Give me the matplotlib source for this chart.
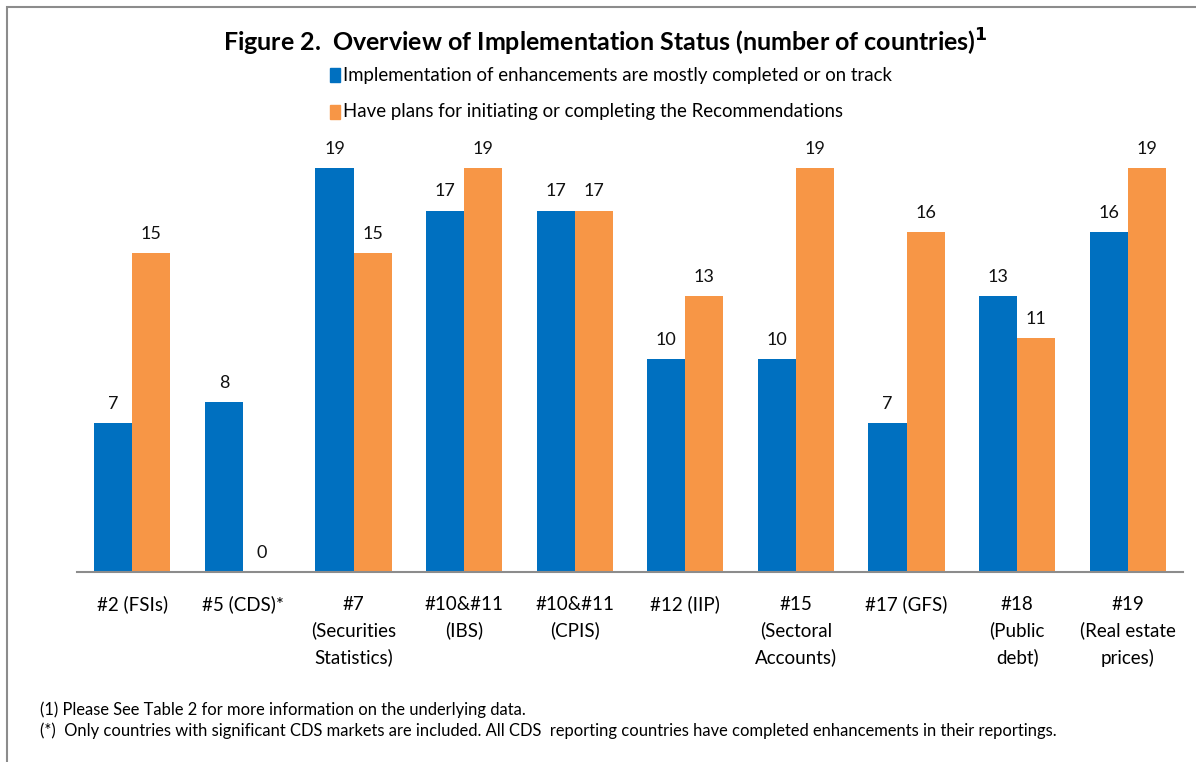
import matplotlib

matplotlib.use("Agg")
import matplotlib.pyplot as plt
from matplotlib.patches import Rectangle
import numpy as np

plt.rcParams["font.family"] = ["Lato", "DejaVu Sans"]

CATEGORIES = [
    "#2 (FSIs)", "#5 (CDS)*", "#7\n(Securities\nStatistics)", "#10&#11\n(IBS)",
    "#10&#11\n(CPIS)", "#12 (IIP)", "#15\n(Sectoral\nAccounts)", "#17 (GFS)",
    "#18\n(Public\ndebt)", "#19\n(Real estate\nprices)",
]
COMPLETED = [7, 8, 19, 17, 17, 10, 10, 7, 13, 16]
PLANS = [15, 0, 15, 19, 17, 13, 19, 16, 11, 19]

SERIES_NAMES = [
    "Implementation of enhancements are mostly completed or on track",
    "Have plans for initiating or completing the Recommendations",
]
BLUE = "#0070C0"
ORANGE = "#F79646"

W, H = 1196, 762
fig = plt.figure(figsize=(W / 100, H / 100), dpi=100)

# axes placed in pixel terms of the reference
ax_left, ax_right = 77, 1183
ax_bottom, ax_top = 572, 572 - 21 * 21.26
ax = fig.add_axes([ax_left / W, 1 - ax_bottom / H,
                   (ax_right - ax_left) / W, (ax_bottom - ax_top) / H])

x = np.arange(len(CATEGORIES))
bw = 0.344
b1 = ax.bar(x - bw / 2, COMPLETED, bw, color=BLUE)
b2 = ax.bar(x + bw / 2, PLANS, bw, color=ORANGE)

for bars, vals in ((b1, COMPLETED), (b2, PLANS)):
    for rect, v in zip(bars, vals):
        ax.annotate(str(v), (rect.get_x() + rect.get_width() / 2, v),
                    xytext=(0, 8), textcoords="offset points",
                    ha="center", va="bottom", fontsize=13, color="#111111")

ax.set_xlim(-0.5, len(CATEGORIES) - 0.5)
ax.set_ylim(0, 21)
ax.set_yticks([])
ax.set_xticks(x)
ax.set_xticklabels(CATEGORIES, fontsize=13.5, linespacing=1.6, va="top")
ax.tick_params(axis="x", length=0, pad=17)
for side in ("top", "right", "left"):
    ax.spines[side].set_visible(False)
ax.spines["bottom"].set_color("#8c8c8c")
ax.spines["bottom"].set_linewidth(1.5)

# title and legend
fig.text(605 / W, 1 - 42 / H,
         r"Figure 2.  Overview of Implementation Status (number of countries)$^{\mathbf{1}}$",
         ha="center", va="center", fontsize=18, fontweight="bold")
for i, (name, col) in enumerate(zip(SERIES_NAMES, [BLUE, ORANGE])):
    yy = 1 - (75 + 37 * i) / H
    fig.patches.append(Rectangle((330 / W, yy - 7 / H), 10 / W, 14 / H,
                                 transform=fig.transFigure, color=col))
    fig.text(343 / W, yy, name, ha="left", va="center", fontsize=13.4)

# footnotes
fig.text(40 / W, 1 - 710 / H,
         "(1) Please See Table 2 for more information on the underlying data.",
         ha="left", va="center", fontsize=11.9)
fig.text(40 / W, 1 - 731 / H,
         "(*)  Only countries with significant CDS markets are included. All CDS  reporting countries have completed enhancements in their reportings.",
         ha="left", va="center", fontsize=11.9)

# outer frame
fig.patches.append(Rectangle((7 / W, -0.1), 1.2, 1 - 7 / H + 0.1,
                             transform=fig.transFigure, fill=False,
                             edgecolor="#8c8c8c", linewidth=1.5))

fig.savefig("out.png", dpi=100)
